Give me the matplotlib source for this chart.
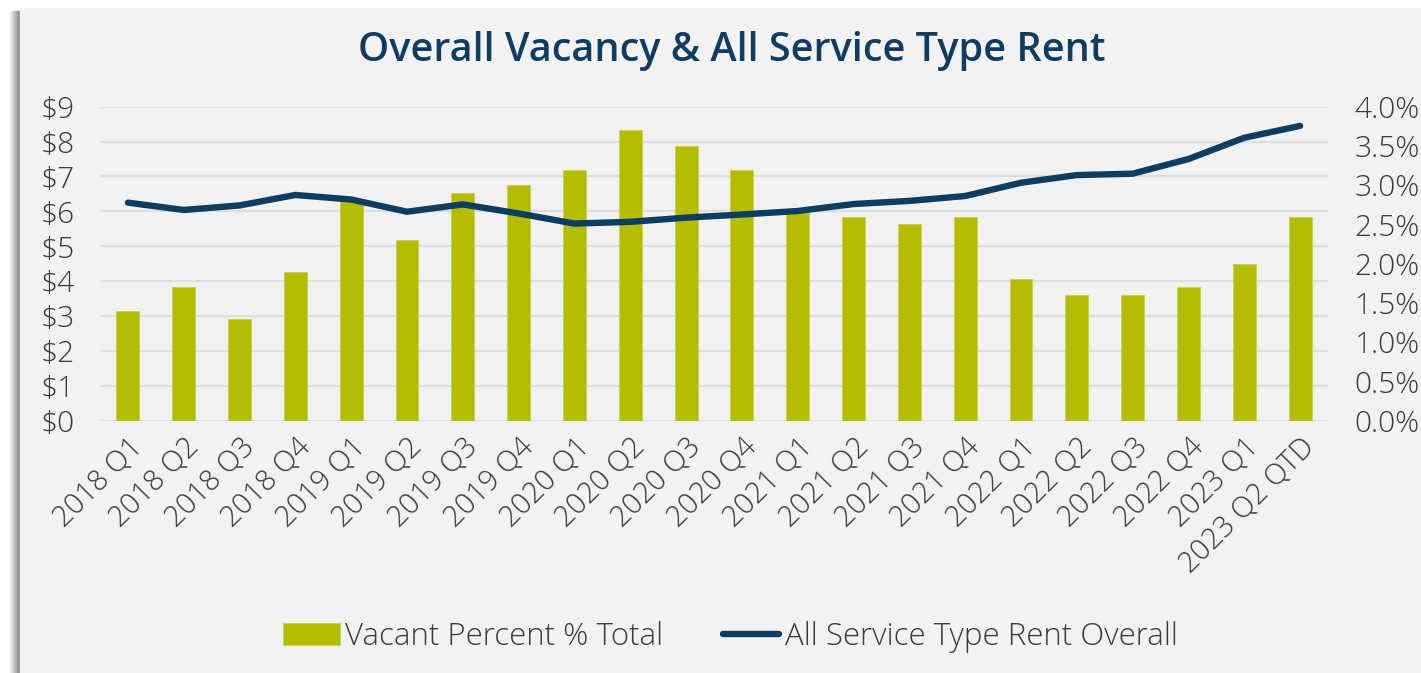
import numpy as np
import matplotlib.pyplot as plt
from matplotlib.patches import Rectangle

quarters = ["2018 Q1", "2018 Q2", "2018 Q3", "2018 Q4",
            "2019 Q1", "2019 Q2", "2019 Q3", "2019 Q4",
            "2020 Q1", "2020 Q2", "2020 Q3", "2020 Q4",
            "2021 Q1", "2021 Q2", "2021 Q3", "2021 Q4",
            "2022 Q1", "2022 Q2", "2022 Q3", "2022 Q4",
            "2023 Q1", "2023 Q2 QTD"]

# vacancy, percent of total
vacant_pct = [1.4, 1.7, 1.3, 1.9,
              2.8, 2.3, 2.9, 3.0,
              3.2, 3.7, 3.5, 3.2,
              2.7, 2.6, 2.5, 2.6,
              1.8, 1.6, 1.6, 1.7,
              2.0, 2.6]

# rent, $ (all service types)
rent = [6.25, 6.04, 6.17, 6.47,
        6.34, 5.99, 6.20, 5.94,
        5.65, 5.70, 5.82, 5.91,
        6.01, 6.21, 6.30, 6.44,
        6.82, 7.04, 7.08, 7.50,
        8.11, 8.45]

rent_ticks = np.arange(0, 10, 1)
pct_ticks = np.arange(0, 4.01, 0.5)

bar_color = "#b5bd00"
line_color = "#0d3d63"
text_color = "#3b3b3b"
panel_color = "#f2f2f2"
grid_color = "#dedede"

plt.rcParams['font.family'] = ['Open Sans', 'DejaVu Sans']

fig = plt.figure(figsize=(14.21, 6.73), dpi=100)
fig.patch.set_facecolor("white")

# panel with a soft shadow on its left edge
for k in range(10):
    shade = 0.95 - 0.045 * k
    fig.patches.append(Rectangle((10 / 1421 + k / 1421, 0), 1 / 1421, 1 - 11 / 673,
                                 transform=fig.transFigure, color=(shade, shade, shade),
                                 zorder=-3))
fig.patches.append(Rectangle((20 / 1421, 0), 1 - 20 / 1421, 1 - 8 / 673,
                             transform=fig.transFigure, color=panel_color, zorder=-2))

ax = fig.add_axes([100 / 1421, 1 - 420.7 / 673, 1228 / 1421, 314 / 673])
ax2 = ax.twinx()
ax3 = ax.twinx()

x = np.arange(len(quarters))

# left axis: rent scale and gridlines
ax.set_facecolor("none")
ax.set_ylim(0, 9)
ax.set_yticks(rent_ticks)
ax.set_yticklabels([f"${v}" for v in rent_ticks])
ax.grid(axis="y", color=grid_color, linewidth=1.6)
ax.set_axisbelow(True)
ax.set_xlim(-0.5, len(quarters) - 0.5)
ax.set_xticks(x)
ax.set_xticklabels(quarters, rotation=45, ha="right", rotation_mode="anchor")

# right axis: vacancy bars
ax2.bar(x, vacant_pct, width=0.41, color=bar_color, edgecolor="#c9cf4d",
        linewidth=0.6, label="Vacant Percent % Total")
ax2.set_ylim(0, 4)
ax2.set_yticks(pct_ticks)
ax2.set_yticklabels([f"{v:.1f}%" for v in pct_ticks])

# rent line drawn on top of the bars
ax3.plot(x, rent, color=line_color, linewidth=4.6, solid_capstyle="round",
         solid_joinstyle="round", label="All Service Type Rent Overall")
ax3.set_ylim(0, 9)
ax3.set_yticks([])

for a in (ax, ax2, ax3):
    for s in a.spines.values():
        s.set_visible(False)
    a.tick_params(length=0, colors=text_color, labelsize=21.5)
    for lbl in a.get_xticklabels() + a.get_yticklabels():
        lbl.set_fontweight("light")

ax.tick_params(axis="y", pad=18)
ax2.tick_params(axis="y", pad=19)
ax.tick_params(axis="x", pad=8, labelsize=21)

fig.text(0.515, 1 - 51 / 673, "Overall Vacancy & All Service Type Rent",
         ha="center", va="center", fontsize=28.5, fontweight="semibold", color="#0f3c60")

handles = ax2.get_legend_handles_labels()[0] + ax3.get_legend_handles_labels()[0]
labels = ["Vacant Percent % Total", "All Service Type Rent Overall"]
leg = fig.legend(handles, labels, loc="center", ncol=2, frameon=False,
                 bbox_to_anchor=(0.514, 1 - 637 / 673),
                 prop={"size": 22.5, "weight": "light"},
                 handlelength=1.8, handletextpad=0.18, columnspacing=1.9)
for t in leg.get_texts():
    t.set_color(text_color)

fig.savefig("out.png", dpi=100, facecolor=fig.get_facecolor())
